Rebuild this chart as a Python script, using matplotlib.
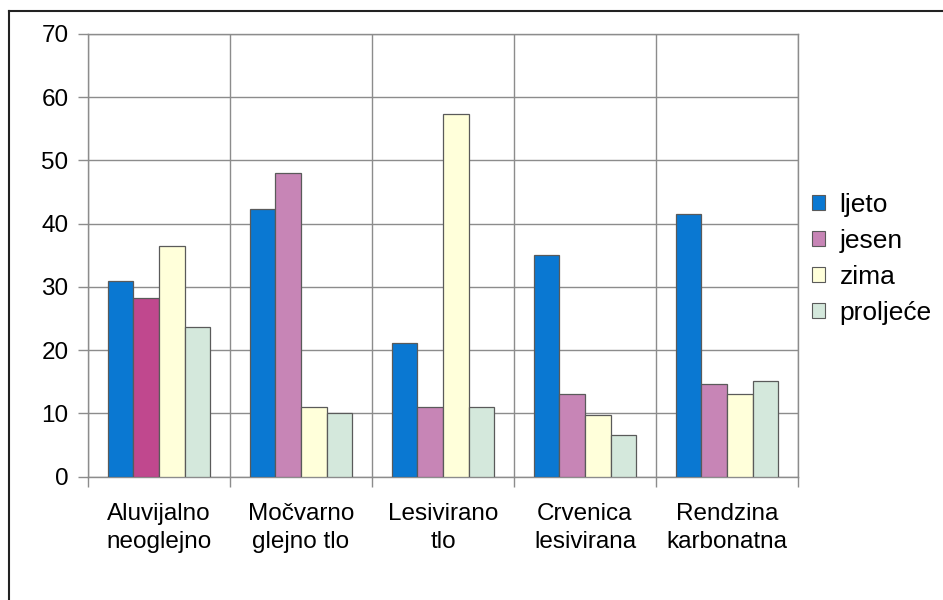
import matplotlib
matplotlib.use("Agg")
import matplotlib.pyplot as plt
import numpy as np
from matplotlib.patches import Patch
from matplotlib.lines import Line2D

plt.rcParams['font.family'] = ['Liberation Sans', 'DejaVu Sans']

categories = ["Aluvijalno\nneoglejno", "Močvarno\nglejno tlo", "Lesivirano\ntlo",
              "Crvenica\nlesivirana", "Rendzina\nkarbonatna"]
seasons = ["ljeto", "jesen", "zima", "proljeće"]
ljeto = [31.0, 42.3, 21.2, 35.0, 41.6]
jesen = [28.3, 48.0, 11.0, 13.0, 14.6]
zima = [36.4, 11.0, 57.3, 9.8, 13.0]
proljece = [23.7, 10.0, 11.0, 6.6, 15.1]
yticks = [0, 10, 20, 30, 40, 50, 60, 70]

colors = ["#0A78D2", "#C785B6", "#FFFFDA", "#D4E8DC"]
# the first soil type's autumn bar is drawn in a deeper magenta
jesen_colors = ["#C0488E"] + ["#C785B6"] * 4
edge = "#5a5a5a"
grid_c = "#8c8c8c"

fig = plt.figure(figsize=(9.43, 6.0), dpi=100)
ax = fig.add_axes([88 / 943, 1 - 476.7 / 600, (798 - 88) / 943, (476.7 - 34) / 600])

x = np.arange(len(categories))
w = 0.18
series = [ljeto, jesen, zima, proljece]
for k, vals in enumerate(series):
    fc = jesen_colors if k == 1 else colors[k]
    ax.bar(x + (k - 1.5) * w, vals, width=w, color=fc, edgecolor=edge,
           linewidth=0.9, zorder=3)

ax.set_xlim(-0.5, len(categories) - 0.5)
ax.set_ylim(0, 70)
ax.set_yticks(yticks)
ax.set_yticklabels([str(t) for t in yticks])

# category boundaries as minor ticks / vertical grid
bounds = np.arange(-0.5, len(categories) + 0.5, 1.0)
ax.set_xticks(x)
ax.set_xticklabels(categories, linespacing=1.33)
ax.set_xticks(bounds, minor=True)
ax.tick_params(axis='x', which='major', length=0, pad=19, labelsize=17.5)
ax.tick_params(axis='x', which='minor', length=7, width=1, color=grid_c)
ax.tick_params(axis='y', length=7, width=1, color=grid_c, pad=7, labelsize=17.5)

ax.grid(True, axis='y', color=grid_c, linewidth=1, zorder=0)
ax.grid(True, axis='x', which='minor', color=grid_c, linewidth=1, zorder=0)
for s in ax.spines.values():
    s.set_color(grid_c)
    s.set_linewidth(1)

handles = [Patch(facecolor=c, edgecolor=edge, linewidth=0.8) for c in colors]
fig.legend(handles, seasons, loc='center left', bbox_to_anchor=(812 / 943, 1 - 259 / 600),
           frameon=False, fontsize=19, handlelength=0.5, handleheight=0.5,
           handletextpad=0.55, labelspacing=0.45, borderpad=0, borderaxespad=0)

# outer frame (left and top edges)
fig.add_artist(Line2D([8.5 / 943, 8.5 / 943], [0, 1 - 10.5 / 600], transform=fig.transFigure,
                      color="#222222", linewidth=1.5))
fig.add_artist(Line2D([8.5 / 943, 1], [1 - 10.5 / 600, 1 - 10.5 / 600], transform=fig.transFigure,
                      color="#222222", linewidth=1.5))

fig.savefig("out.png", dpi=100)
